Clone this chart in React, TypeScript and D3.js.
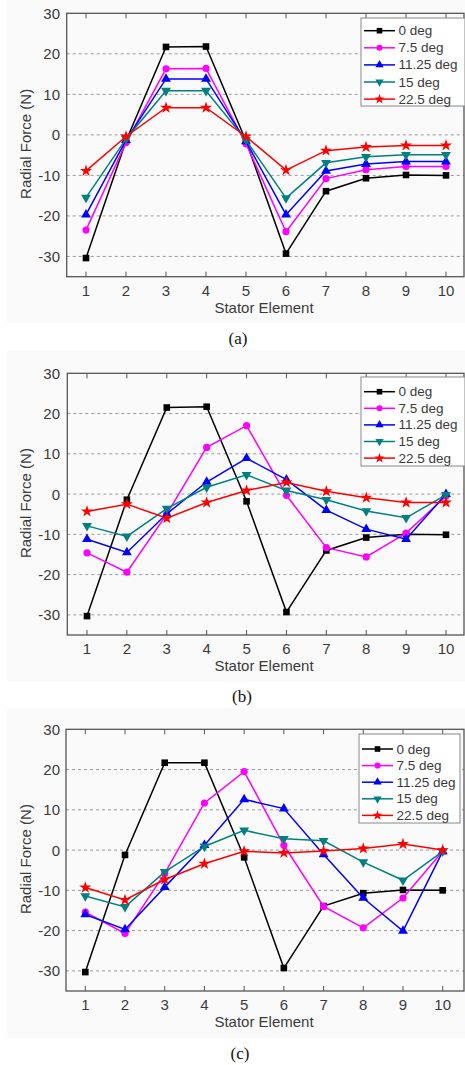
import React from "react";
import * as d3 from "d3";

const elements = [1, 2, 3, 4, 5, 6, 7, 8, 9, 10];
const seriesNames = ["0 deg", "7.5 deg", "11.25 deg", "15 deg", "22.5 deg"];
const seriesColors = ["#000000", "#ff00ff", "#0000ff", "#008080", "#ff0000"];
const seriesMarkers = ["square", "circle", "triangle", "triangleDown", "star"];
const yTicks = [-30, -20, -10, 0, 10, 20, 30];
const gridValues = [-30, -20, -10, 0, 10, 20];

// Panel (a)
const a0 = [-30.4, -1.5, 21.7, 21.8, -1.5, -29.3, -13.9, -10.7, -9.9, -10.0];
const a75 = [-23.5, -1.9, 16.3, 16.4, -2.2, -23.9, -10.8, -8.6, -7.8, -7.8];
const a1125 = [-19.7, -1.3, 13.8, 13.8, -1.6, -19.7, -8.9, -7.2, -6.6, -6.6];
const a15 = [-15.5, -1.0, 10.9, 10.9, -1.3, -15.6, -6.9, -5.4, -4.9, -4.9];
const a225 = [-8.9, -0.4, 6.7, 6.7, -0.4, -8.7, -3.9, -3.0, -2.6, -2.6];

// Panel (b)
const b0 = [-30.3, -1.4, 21.5, 21.7, -1.8, -29.3, -14.0, -10.8, -10.0, -10.1];
const b75 = [-14.6, -19.4, -5.0, 11.6, 17.0, -0.3, -13.3, -15.6, -9.7, -0.5];
const b1125 = [-11.2, -14.5, -4.9, 3.0, 8.9, 3.6, -4.0, -8.7, -11.2, 0.0];
const b15 = [-7.9, -10.5, -3.6, 1.7, 4.8, 0.9, -1.4, -4.2, -5.9, -0.2];
const b225 = [-4.3, -2.5, -6.0, -2.1, 0.9, 2.9, 0.7, -0.9, -2.1, -2.1];

// Panel (c)
const c0 = [-30.3, -1.2, 21.7, 21.7, -1.8, -29.3, -13.9, -10.7, -9.9, -10.0];
const c75 = [-15.4, -20.7, -5.8, 11.7, 19.5, 1.2, -14.0, -19.3, -11.9, -0.3];
const c1125 = [-16.0, -19.7, -9.2, 1.2, 12.6, 10.3, -1.1, -11.9, -20.1, -0.3];
const c15 = [-11.4, -14.1, -5.4, 0.9, 4.9, 2.8, 2.3, -3.0, -7.5, -0.3];
const c225 = [-9.3, -12.4, -7.3, -3.4, -0.3, -0.7, -0.2, 0.4, 1.5, 0.0];

const panelsData = [
  [a0, a75, a1125, a15, a225],
  [b0, b75, b1125, b15, b225],
  [c0, c75, c1125, c15, c225],
];
const captions = ["(a)", "(b)", "(c)"];

type Layout = {
  bgTop: number; bgBottom: number;
  left: number; right: number; top: number; bottom: number;
  x1: number; x10: number;
  legX: number; legY: number; legW: number; legH: number; legStep: number; legFirst: number;
  caption: number; captionX: number;
};

const layouts: Layout[] = [
  { bgTop: 0, bgBottom: 323, left: 66.7, right: 464, top: 13.3, bottom: 276.7, x1: 86, x10: 446,
    legX: 361, legY: 18, legW: 104, legH: 88, legStep: 17.1, legFirst: 12.7, caption: 338, captionX: 238 },
  { bgTop: 350, bgBottom: 682, left: 67.3, right: 464, top: 373.3, bottom: 635, x1: 87, x10: 446,
    legX: 361, legY: 377, legW: 104, legH: 89, legStep: 16.6, legFirst: 14.7, caption: 696, captionX: 242 },
  { bgTop: 708, bgBottom: 1038, left: 66, right: 464, top: 729.3, bottom: 991, x1: 85.3, x10: 442.7,
    legX: 359, legY: 734, legW: 101, legH: 89, legStep: 16.6, legFirst: 15, caption: 1053, captionX: 240 },
];

function Marker({ kind, x, y, color, s = 1 }: { kind: string; x: number; y: number; color: string; s?: number }) {
  if (kind === "square") return <rect x={x - 3.3 * s} y={y - 3.3 * s} width={6.6 * s} height={6.6 * s} fill={color} />;
  if (kind === "circle") return <circle cx={x} cy={y} r={3.6 * s} fill={color} />;
  const sym =
    kind === "star" ? d3.symbol(d3.symbolStar, 45 * s * s) : d3.symbol(d3.symbolTriangle, 42 * s * s);
  const rot = kind === "triangleDown" ? 180 : 0;
  return <path d={sym() || ""} transform={`translate(${x},${y}) rotate(${rot})`} fill={color} />;
}

function Panel({ idx }: { idx: number }) {
  const L = layouts[idx];
  const data = panelsData[idx];
  const x = d3.scaleLinear().domain([1, 10]).range([L.x1, L.x10]);
  const y = d3.scaleLinear().domain([-35, 30]).range([L.bottom, L.top]);
  const textColor = "#3a3a3a";
  const font = "Liberation Sans, Arial, sans-serif";
  const yMid = y(0) + 9;
  return (
    <g>
      <rect x={7} y={L.bgTop} width={458} height={L.bgBottom - L.bgTop} fill="#fafafa" />
      {gridValues.map((v) => (
        <line key={"g" + v} x1={L.left} x2={L.right} y1={y(v)} y2={y(v)}
          stroke="#9a9a9a" strokeWidth={1} strokeDasharray="3,3" />
      ))}
      {elements.map((e) => (
        <g key={"t" + e}>
          <line x1={x(e)} x2={x(e)} y1={L.top} y2={L.top + 5} stroke="#555" strokeWidth={1} />
          <line x1={x(e)} x2={x(e)} y1={L.bottom} y2={L.bottom - 5} stroke="#555" strokeWidth={1} />
          <text x={x(e)} y={L.bottom + 13.5} fontSize={15} fill={textColor} fontFamily={font}
            textAnchor="middle" dominantBaseline="central">{e}</text>
        </g>
      ))}
      <rect x={L.left} y={L.top} width={L.right - L.left} height={L.bottom - L.top}
        fill="none" stroke="#555" strokeWidth={1.3} />
      {yTicks.map((v) => (
        <text key={"y" + v} x={60} y={y(v)} fontSize={15} fill={textColor} fontFamily={font}
          textAnchor="end" dominantBaseline="central">{v}</text>
      ))}
      <text transform={`translate(25,${yMid}) rotate(-90)`} fontSize={15} fill={textColor}
        fontFamily={font} textAnchor="middle" dominantBaseline="central">Radial Force (N)</text>
      <text x={264} y={L.bottom + 30.5} fontSize={15} fill={textColor}
        fontFamily={font} textAnchor="middle" dominantBaseline="central">Stator Element</text>
      <text x={L.captionX} y={L.caption} fontSize={17} fill="#111" fontFamily="Liberation Serif, Times New Roman, serif"
        textAnchor="middle" dominantBaseline="central">{captions[idx]}</text>
      {data.map((s, si) => {
        const line = d3.line<number>().x((_, i) => x(elements[i])).y((d) => y(d));
        return (
          <g key={"s" + si}>
            <path d={line(s) || ""} fill="none" stroke={seriesColors[si]} strokeWidth={1.5} />
            {s.map((v, i) => (
              <Marker key={i} kind={seriesMarkers[si]} x={x(elements[i])} y={y(v)} color={seriesColors[si]} />
            ))}
          </g>
        );
      })}
      <rect x={L.legX} y={L.legY} width={L.legW} height={L.legH} fill="#fff" stroke="#888" strokeWidth={1} />
      {seriesNames.map((n, si) => {
        const ly = L.legY + L.legFirst + si * L.legStep;
        return (
          <g key={"l" + si}>
            <line x1={L.legX + 3} x2={L.legX + 34} y1={ly} y2={ly} stroke={seriesColors[si]} strokeWidth={1.5} />
            <Marker kind={seriesMarkers[si]} x={L.legX + 18.5} y={ly} color={seriesColors[si]} s={0.85} />
            <text x={L.legX + 37.5} y={ly} fontSize={13.5} fill={textColor} fontFamily={font}
              dominantBaseline="central">{n}</text>
          </g>
        );
      })}
    </g>
  );
}

export default function App() {
  return (
    <svg width={465} height={1065} style={{ position: "absolute", left: 0, top: 0, background: "#fff" }}>
      {[0, 1, 2].map((i) => <Panel key={i} idx={i} />)}
    </svg>
  );
}
